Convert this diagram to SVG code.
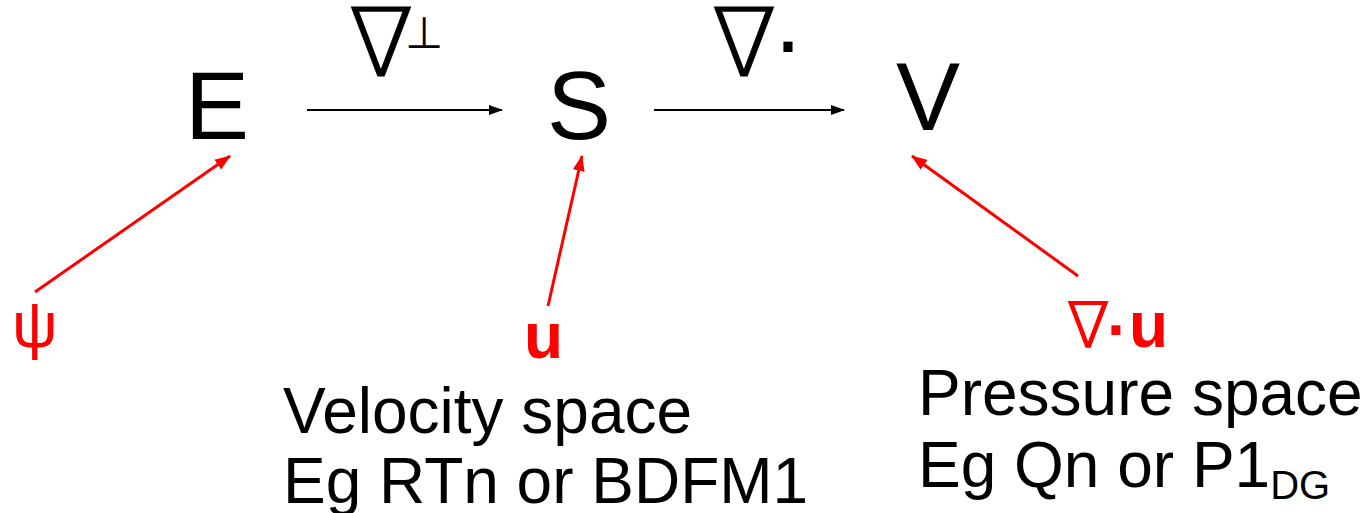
<svg xmlns="http://www.w3.org/2000/svg" width="1366" height="513" viewBox="0 0 1366 513">
<defs>
<style>
.big{font-family:"Liberation Sans",Arial,sans-serif;font-size:96px;fill:#000}
.nab{font-family:"DejaVu Sans",sans-serif;font-weight:200;font-size:94px;fill:#000;stroke:#000;stroke-width:1.6}
.sup{font-family:"Liberation Sans",Arial,sans-serif;font-size:44px;fill:#000}
.lbl{font-family:"Liberation Sans",Arial,sans-serif;font-size:64px;fill:#000}
.red{font-family:"Liberation Sans",Arial,sans-serif;font-size:64px;fill:#f00}
.rnab{font-family:"DejaVu Sans",sans-serif;font-weight:200;font-size:62px;fill:#f00;stroke:#f00;stroke-width:1.6}
.k{stroke:#000;stroke-width:2;fill:none}
.r{stroke:#f00;stroke-width:3;fill:none}
</style>
<marker id="ak" markerWidth="14" markerHeight="10" refX="13" refY="5" orient="auto" markerUnits="userSpaceOnUse"><path d="M0,0 L14,5 L0,10 Z" fill="#000"/></marker>
<marker id="ar" markerWidth="16" markerHeight="12" refX="15" refY="6" orient="auto" markerUnits="userSpaceOnUse"><path d="M0,0 L16,6 L0,12 Z" fill="#f00"/></marker>
</defs>
<g id="node-E"><text class="big" x="185" y="139">E</text></g>
<g id="node-S"><text class="big" x="547" y="139">S</text></g>
<g id="node-V"><text class="big" x="896" y="130">V</text></g>
<g id="label-perp"><text class="nab" x="349" y="76">∇</text><text class="sup" x="405" y="48">⊥</text></g>
<g id="label-div"><text class="nab" x="712" y="76">∇</text><text class="big" x="772" y="73" font-size="110">·</text></g>
<g id="node-psi"><text class="red" font-size="56" x="12" y="347">ψ</text></g>
<g id="node-u"><text class="red" font-weight="bold" x="524" y="358">u</text></g>
<g id="node-divu"><text class="rnab" x="1067" y="347">∇</text><text class="red" font-weight="bold" x="1107" y="352">·</text><text class="red" font-weight="bold" x="1129" y="347">u</text></g>
<g id="note-velocity"><text class="lbl" x="283" y="433">Velocity space</text><text class="lbl" x="283" y="503">Eg RTn or BDFM1</text></g>
<g id="note-pressure"><text class="lbl" x="918" y="415">Pressure space</text><text class="lbl" x="918" y="487">Eg Qn or P1<tspan font-size="40" dy="12">DG</tspan></text></g>
<g id="connectors">
<line class="k" x1="307" y1="110" x2="502" y2="110" marker-end="url(#ak)"/>
<line class="k" x1="654" y1="110" x2="844" y2="110" marker-end="url(#ak)"/>
<line class="r" x1="35" y1="292" x2="230" y2="156" marker-end="url(#ar)"/>
<line class="r" x1="548" y1="306" x2="582" y2="156" marker-end="url(#ar)"/>
<line class="r" x1="1078" y1="276" x2="912" y2="156" marker-end="url(#ar)"/>
</g>
</svg>
